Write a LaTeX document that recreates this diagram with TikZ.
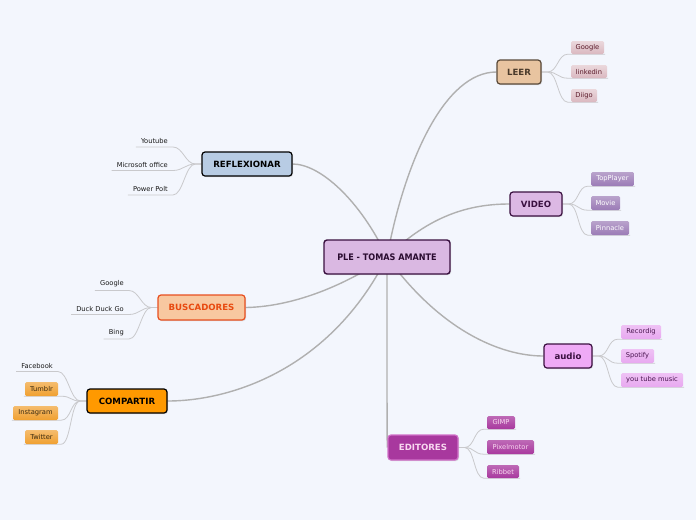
\documentclass[tikz,border=0pt]{standalone}
\usepackage{fontspec}
\setmainfont{DejaVu Sans}
\newfontfamily\handfont{DejaVu Sans Condensed}
\usetikzlibrary{shadows,calc}
\pgfdeclarelayer{bg}\pgfdeclarelayer{conn}\pgfsetlayers{bg,conn,main}
\definecolor{bgcol}{HTML}{F3F6FD}
\definecolor{linkgray}{HTML}{B0B0B0}
\definecolor{sublinkgray}{HTML}{C9C9CC}
\definecolor{cfill}{HTML}{DAB8E2}
\definecolor{cdraw}{HTML}{3A1040}
\definecolor{ctext}{HTML}{2A0C30}
\definecolor{leerfill}{HTML}{E8C4A0}
\definecolor{leerdraw}{HTML}{5A4A3A}
\definecolor{leertext}{HTML}{4A3A2A}
\definecolor{leercfill}{HTML}{DAB8C0}
\definecolor{leerctext}{HTML}{5A1A2A}
\definecolor{vidfill}{HTML}{DCB8E4}
\definecolor{vidcfill}{HTML}{9B7BB6}
\definecolor{audfill}{HTML}{EFAAF6}
\definecolor{audcfill}{HTML}{E8A8F0}
\definecolor{audctext}{HTML}{4A1550}
\definecolor{edfill}{HTML}{A8389E}
\definecolor{eddraw}{HTML}{D070C8}
\definecolor{edtext}{HTML}{F8D8F0}
\definecolor{reffill}{HTML}{B8CCE4}
\definecolor{busfill}{HTML}{F8C8A0}
\definecolor{busdraw}{HTML}{E85020}
\definecolor{bustext}{HTML}{E84A10}
\definecolor{compfill}{HTML}{FF9900}
\definecolor{compcfill}{HTML}{F0A030}
\definecolor{compctext}{HTML}{3A2A10}
\begin{document}
\begin{tikzpicture}[x=1pt,y=-1pt,
  mainbox/.style={rounded corners=3pt, line width=1.2pt, minimum height=24pt, inner sep=0pt,
    font=\fontsize{8.6}{10}\selectfont\bfseries,
    drop shadow={opacity=0.25,shadow xshift=1pt,shadow yshift=-1pt}},
  subbox/.style={rounded corners=1.5pt, minimum height=13pt, inner sep=0pt,
    font=\fontsize{6.7}{8}\selectfont},
  subtext/.style={inner xsep=5pt, inner ysep=3.2pt, anchor=south east,
    font=\fontsize{6.7}{8}\selectfont, text=black!90},
  link/.style={draw=linkgray, line width=1.4pt},
  sublink/.style={draw=sublinkgray, line width=0.8pt},
  leerc/.style={subbox, top color=leercfill!55!white, bottom color=leercfill, text=leerctext},
  vidc/.style={subbox, top color=vidcfill!70!white, bottom color=vidcfill, text=white},
  audc/.style={subbox, top color=audcfill!70!white, bottom color=audcfill, text=audctext},
  edc/.style={subbox, top color=edfill!75!white, bottom color=edfill, text=edtext},
  compc/.style={subbox, top color=compcfill!70!white, bottom color=compcfill, text=compctext},
]
\begin{pgfonlayer}{bg}
\fill[bgcol] (0,0) rectangle (696,520);
\end{pgfonlayer}
\useasboundingbox (0,0) rectangle (696,520);

% center
\node[draw=cdraw, fill=cfill, rounded corners=3pt, line width=1.4pt, minimum width=126pt, minimum height=34pt,
  inner sep=0pt, text=ctext, font=\handfont\bfseries\fontsize{9}{11}\selectfont,
  drop shadow={opacity=0.25,shadow xshift=1pt,shadow yshift=-1pt}] (c) at (387,257) {PLE - TOMAS AMANTE};

% main nodes
\node[mainbox, draw=leerdraw, fill=leerfill, text=leertext, minimum width=44pt] (leer) at (519,72) {LEER};
\node[mainbox, draw=cdraw, fill=vidfill, text=cdraw, minimum width=52pt] (vid) at (536,204) {VIDEO};
\node[mainbox, draw=cdraw, fill=audfill, text=cdraw, minimum width=48pt] (aud) at (568,356) {audio};
\node[mainbox, draw=eddraw, fill=edfill, text=edtext, minimum width=70pt, minimum height=25pt] (ed) at (423,447.5) {EDITORES};
\node[mainbox, draw=black, fill=reffill, text=black, minimum width=90pt] (ref) at (247,164) {REFLEXIONAR};
\node[mainbox, draw=busdraw, fill=busfill, text=bustext, minimum width=87pt, minimum height=25pt] (bus) at (201.5,307.5) {BUSCADORES};
\node[mainbox, draw=black, fill=compfill, text=black, minimum width=80pt] (comp) at (127,401) {COMPARTIR};

% LEER children
\node[leerc, minimum width=33pt] (l1) at (587.5,47.5) {Google};
\node[leerc, minimum width=36pt] (l2) at (589,71.5) {linkedin};
\node[leerc, minimum width=26pt] (l3) at (584,95.5) {Diigo};
% VIDEO children
\node[vidc, minimum width=43pt, minimum height=14pt] (v1) at (612.5,179) {TopPlayer};
\node[vidc, minimum width=29pt, minimum height=14pt] (v2) at (605.5,203) {Movie};
\node[vidc, minimum width=38pt, minimum height=14pt] (v3) at (610,228) {Pinnacle};
% audio children
\node[audc, minimum width=40pt, minimum height=14pt] (a1) at (641,332) {Recordig};
\node[audc, minimum width=33pt, minimum height=14pt] (a2) at (637.5,356) {Spotify};
\node[audc, minimum width=62pt, minimum height=14pt] (a3) at (652,380) {you tube music};
% EDITORES children
\node[edc, minimum width=28pt] (e1) at (501,422.5) {GIMP};
\node[edc, minimum width=47pt, minimum height=14pt] (e2) at (510.5,447) {Pixelmotor};
\node[edc, minimum width=32pt] (e3) at (503,471.5) {Ribbet};
% REFLEXIONAR children
\node[subtext] (r1) at (173,147) {Youtube};
\node[subtext] (r2) at (173,170.5) {Microsoft office};
\node[subtext] (r3) at (173,195) {Power Polt};
% BUSCADORES children
\node[subtext] (b1) at (129,290.5) {Google};
\node[subtext] (b2) at (129,314.5) {Duck Duck Go};
\node[subtext] (b3) at (129,339) {Bing};
% COMPARTIR children
\node[subtext] (k1) at (58,371.5) {Facebook};
\node[compc, minimum width=33pt, minimum height=14pt] (k2) at (41.5,389) {Tumblr};
\node[compc, minimum width=45pt, minimum height=14pt] (k3) at (35.5,413) {Instagram};
\node[compc, minimum width=33pt, minimum height=14pt] (k4) at (41.5,437) {Twitter};

\begin{pgfonlayer}{conn}
% main links
\draw[link] (c.center) .. controls (405,160) and (445,72) .. (leer.west);
\draw[link] (c.center) .. controls (430,215) and (470,204) .. (vid.west);
\draw[link] (c.center) .. controls (440,330) and (500,356) .. (aud.west);
\draw[link] (c.center) .. controls (387,400) and (387,447.5) .. (ed.west);
\draw[link] (c.center) .. controls (360,200) and (320,164) .. (ref.east);
\draw[link] (c.center) .. controls (330,295) and (280,307) .. (bus.east);
\draw[link] (c.center) .. controls (330,370) and (230,401) .. (comp.east);

% right side sub links
\foreach \p/\k in {leer/l1,leer/l2,leer/l3,vid/v1,vid/v2,vid/v3,aud/a1,aud/a2,aud/a3,ed/e1,ed/e2,ed/e3}{
  \draw[sublink] (\p.east) -- ++(6,0) .. controls +(10,0) and +(-10,0) .. ([xshift=-3pt]\k.south west) -- ([xshift=1pt]\k.south east);
}
% left side text sub links
\foreach \p/\k in {ref/r1,ref/r2,ref/r3,bus/b1,bus/b2,bus/b3,comp/k1}{
  \draw[sublink] (\p.west) -- ++(-6,0) .. controls +(-10,0) and +(10,0) .. (\k.south east) -- (\k.south west);
}
% left side box sub links
\foreach \p/\k in {comp/k2,comp/k3,comp/k4}{
  \draw[sublink] (\p.west) -- ++(-6,0) .. controls +(-10,0) and +(10,0) .. ([xshift=3pt]\k.south east) -- ([xshift=-1pt]\k.south west);
}
\end{pgfonlayer}
\end{tikzpicture}
\end{document}
